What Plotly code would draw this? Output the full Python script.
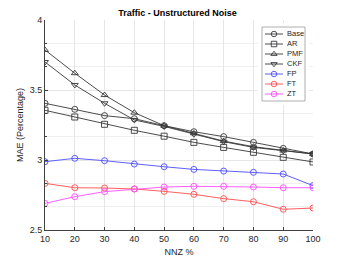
import plotly.graph_objects as go

nnz = [10, 20, 30, 40, 50, 60, 70, 80, 90, 100]
base = [3.405, 3.362, 3.317, 3.295, 3.245, 3.202, 3.167, 3.126, 3.083, 3.043]
ar   = [3.355, 3.307, 3.255, 3.212, 3.170, 3.126, 3.090, 3.055, 3.019, 2.986]
pmf  = [3.786, 3.620, 3.464, 3.338, 3.245, 3.190, 3.135, 3.095, 3.067, 3.043]
ckf  = [3.700, 3.536, 3.405, 3.286, 3.240, 3.184, 3.131, 3.090, 3.065, 3.043]
fp   = [2.988, 3.012, 2.995, 2.971, 2.952, 2.933, 2.921, 2.912, 2.900, 2.817]
ft   = [2.833, 2.802, 2.800, 2.793, 2.776, 2.755, 2.724, 2.702, 2.648, 2.657]
zt   = [2.690, 2.738, 2.774, 2.793, 2.807, 2.812, 2.812, 2.807, 2.802, 2.802]

names = ["Base", "AR", "PMF", "CKF", "FP", "FT", "ZT"]
values = [base, ar, pmf, ckf, fp, ft, zt]
symbols = ["circle-open", "square-open", "triangle-up-open", "triangle-down-open",
           "circle-open", "circle-open", "circle-open"]
colors = ["#383838", "#383838", "#383838", "#383838", "#4d4dff", "#ff4d4d", "#ff4dff"]

OFF = 8  # default page body margin
W, H = 346 - OFF, 260 - OFF
# plot area in window pixels: x 45..313, y 20..230
L, T = 45 - OFF, 20 - OFF
R, B = W - (313 - OFF), H - (230 - OFF)
pw, ph = W - L - R, H - T - B

# legend box in figure pixel coordinates
lx0, lx1, ly0, ly1 = 262 - OFF, 305 - OFF, 27 - OFF, 101 - OFF

fig = go.Figure()
for name, vals, sym, col in zip(names, values, symbols, colors):
    fig.add_trace(go.Scatter(
        x=nnz, y=vals, name=name, mode="lines+markers", showlegend=False,
        line=dict(color=col, width=0.9),
        marker=dict(symbol=sym, size=6, color=col, line=dict(width=0.9, color=col)),
    ))

# compact legend on an overlay axis measured in figure pixels
for i, (name, sym, col) in enumerate(zip(names, symbols, colors)):
    yc = 34 - OFF + 10 * i
    fig.add_trace(go.Scatter(
        x=[265 - OFF, 283 - OFF], y=[yc, yc], mode="lines",
        line=dict(color=col, width=0.9), xaxis="x2", yaxis="y2",
        showlegend=False, hoverinfo="skip"))
    fig.add_trace(go.Scatter(
        x=[274 - OFF], y=[yc], mode="markers",
        marker=dict(symbol=sym, size=5.5, color=col, line=dict(width=0.9, color=col)),
        xaxis="x2", yaxis="y2", showlegend=False, hoverinfo="skip"))
    fig.add_annotation(x=285 - OFF, y=yc, xref="x2", yref="y2", text=name,
                       showarrow=False, xanchor="left", yanchor="middle",
                       font=dict(size=7.5, color="#262626"))

fig.add_shape(type="rect", xref="x2", yref="y2", x0=lx0, x1=lx1, y0=ly0, y1=ly1,
              line=dict(color="#999999", width=0.8), fillcolor="rgba(0,0,0,0)",
              layer="above")

font = "Liberation Sans, Arial, Helvetica, sans-serif"
fig.update_layout(
    width=W, height=H,
    margin=dict(l=L, r=R, t=T, b=B, autoexpand=False),
    paper_bgcolor="white", plot_bgcolor="white",
    font=dict(family=font, size=9, color="#262626"),
    title=dict(text="<b>Traffic - Unstructured Noise</b>", x=(177.5 - OFF) / W,
               xanchor="center", xref="container", y=1 - (12.5 - OFF) / H,
               yref="container", yanchor="middle", automargin=False,
               font=dict(size=9, color="#000000")),
    showlegend=False,
    xaxis=dict(range=[10, 100], tickvals=nnz, showgrid=True, gridcolor="#e6e6e6",
               gridwidth=0.6, zeroline=False, showline=True, linecolor="#404040",
               linewidth=0.8, ticks="inside", ticklen=3, tickcolor="#404040",
               automargin=False,
               title=dict(text="NNZ %", standoff=5, font=dict(size=9)),
               tickfont=dict(size=9)),
    yaxis=dict(range=[2.5, 4], tickvals=[2.5, 3, 3.5, 4], showgrid=True,
               gridcolor="#e6e6e6", gridwidth=0.6, zeroline=False, showline=True,
               linecolor="#404040", linewidth=0.8, ticks="inside", ticklen=3,
               tickcolor="#404040", automargin=False,
               minor=dict(dtick=0.5 / 3, showgrid=True, gridcolor="#f0f0f0",
                          gridwidth=0.6, ticks="inside", ticklen=2, tickcolor="#404040"),
               title=dict(text="MAE (Percentage)", standoff=4, font=dict(size=9)),
               tickfont=dict(size=9)),
    xaxis2=dict(domain=[(lx0 - L - 4) / pw, (lx1 - L + 4) / pw],
                range=[lx0 - 4, lx1 + 4], visible=False, fixedrange=True,
                anchor="y2"),
    yaxis2=dict(domain=[(H - B - ly1 - 4) / ph, (H - B - ly0 + 4) / ph],
                range=[ly1 + 4, ly0 - 4], visible=False, fixedrange=True,
                anchor="x2"),
)

fig.write_html("out.html")
